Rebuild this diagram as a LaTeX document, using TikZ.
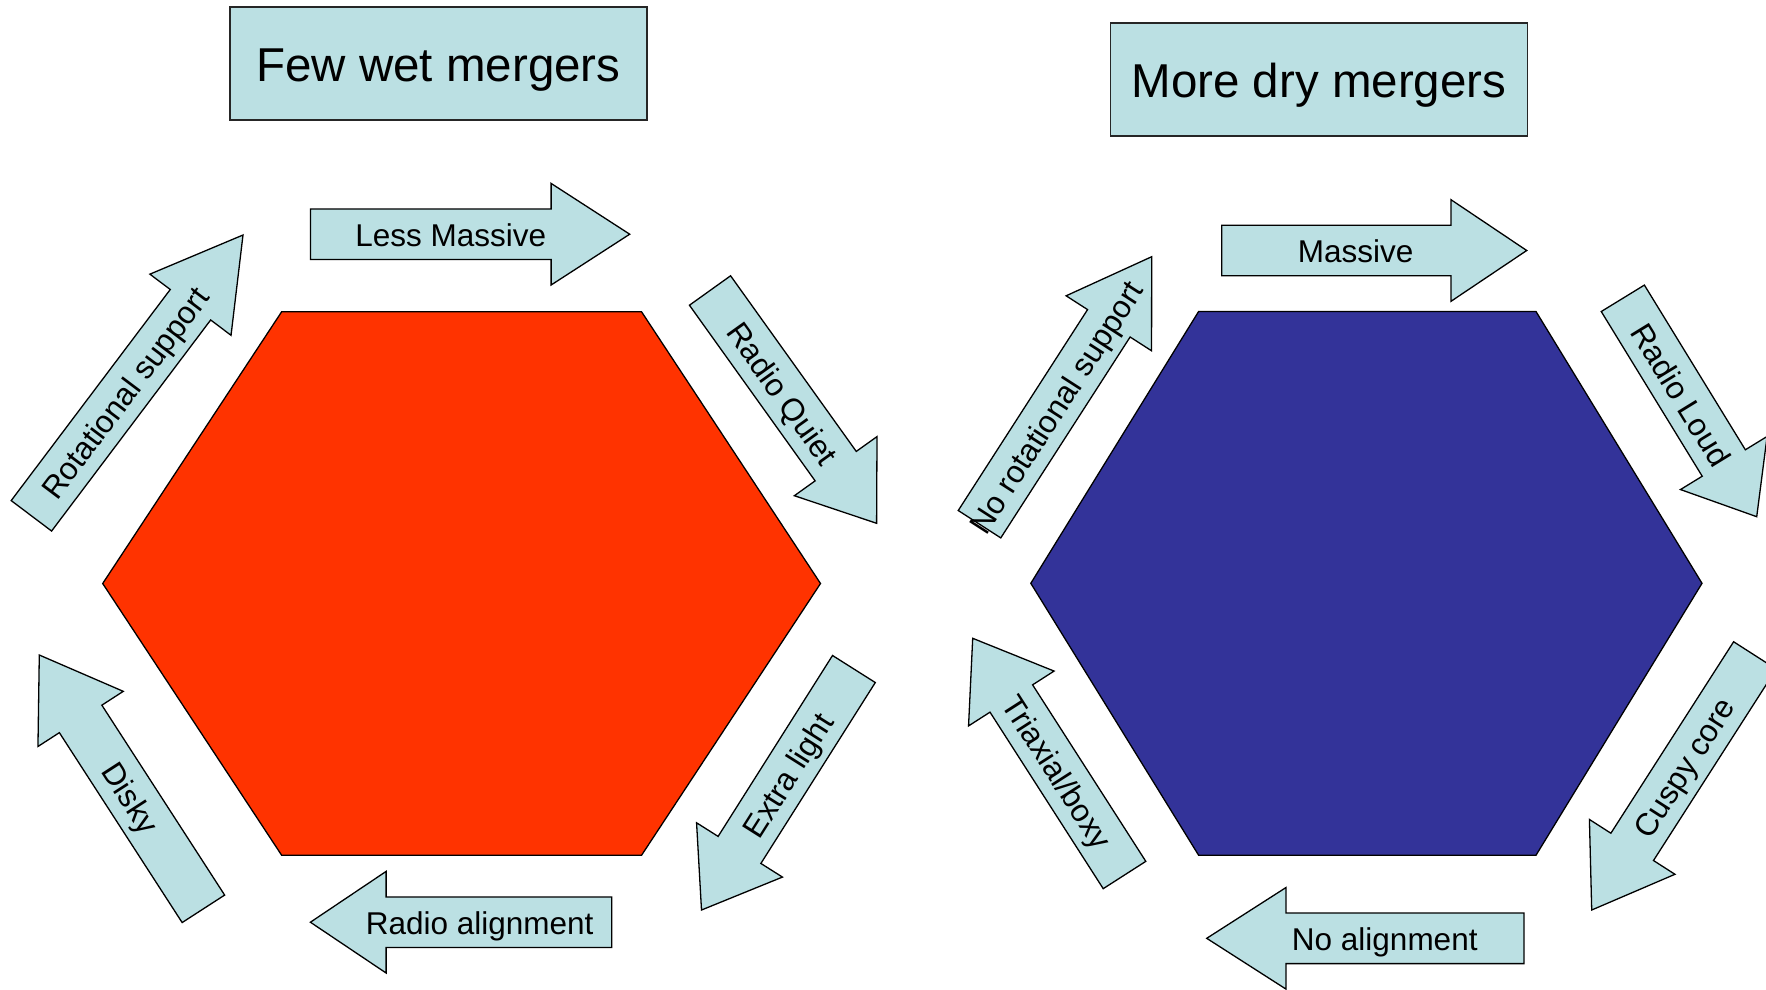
\documentclass[tikz,border=0pt]{standalone}
\usepackage{fontspec}
\setmainfont{Liberation Sans}
\usetikzlibrary{calc}
\definecolor{Tomato}{HTML}{FF3300}
\definecolor{Indigo}{HTML}{333399}
\definecolor{PaleCyan}{HTML}{BBE0E3}
\tikzset{
  titlebox/.style={draw=black!85, line width=1.3pt, fill=PaleCyan,
    minimum width=417pt, minimum height=113pt, inner sep=0pt,
    text height=36.6pt, text depth=0pt, font=\fontsize{47.5}{57}\selectfont},
  arrowbody/.style={draw=black, line width=1.3pt, fill=PaleCyan, line join=miter},
  arrowtext/.style={inner sep=0pt, text height=24.3pt, text depth=0pt,
    font=\fontsize{31.5}{38}\selectfont},
  hexbody/.style={draw=black, line width=1.3pt}
}
% block arrow: name, tail centre, tip, head length, label
\newcommand{\blockarrow}[5]{
  \coordinate (#1-t) at #2;
  \coordinate (#1-b) at #3;
  \coordinate (#1-h) at ($(#1-b)!#4pt!(#1-t)$);
  \coordinate (#1-m) at ($(#1-h)!0.51!(#1-b)$);
  \filldraw[arrowbody] ($(#1-t)!25.3pt!90:(#1-b)$) -- ($(#1-h)!25.3pt!90:(#1-b)$)
    -- ($(#1-h)!50.8pt!90:(#1-b)$) -- (#1-b) -- ($(#1-h)!50.8pt!-90:(#1-b)$)
    -- ($(#1-h)!25.3pt!-90:(#1-b)$) -- ($(#1-t)!25.3pt!-90:(#1-b)$) -- cycle;
  \path (#1-t) -- (#1-m) node[midway, sloped, arrowtext] (#1) {#5};
}

\begin{document}
\begin{tikzpicture}[x=1pt,y=-1pt]
    \useasboundingbox (0,0) rectangle (1766,989);
    \clip (0,0) rectangle (1766,989);

    % Hexagons
    \filldraw[hexbody, fill=Tomato] (281.7,311.7) -- (641.5,311.7) -- (820.5,583.5)
        -- (641.5,855.3) -- (281.7,855.3) -- (102.7,583.5) -- cycle;
    \filldraw[hexbody, fill=Indigo] (1198.6,311.5) -- (1536,311.5) -- (1702,583.3)
        -- (1536,855.2) -- (1198.6,855.2) -- (1030.8,583.3) -- cycle;

    % Left cycle
    \blockarrow{rotsupport}{(31.4,515.8)}{(243,235)}{87.3}{Rotational support}
    \blockarrow{lessmassive}{(310.4,234.2)}{(629.7,234.2)}{78.6}{Less Massive}
    \blockarrow{radioquiet}{(710,290.5)}{(876.6,523.3)}{70.3}{Radio Quiet}
    \blockarrow{extralight}{(853.9,669)}{(701.5,910)}{71.1}{Extra light}
    \blockarrow{radioalign}{(611.7,922.2)}{(310.4,922.2)}{75.7}{Radio alignment}
    \blockarrow{disky}{(203.4,908.8)}{(39.3,655)}{76.1}{Disky}

    % Right cycle
    \blockarrow{norotsupport}{(979.5,524.2)}{(1151.7,256.7)}{79.2}{No rotational support}
    \blockarrow{massive}{(1221.7,250.5)}{(1526.7,250.5)}{75.7}{Massive}
    \blockarrow{radioloud}{(1622.8,298.3)}{(1756.7,516.7)}{63}{Radio Loud}
    \blockarrow{cuspycore}{(1754.9,655.4)}{(1591.7,910)}{75}{Cuspy core}
    \blockarrow{noalign}{(1524,938.3)}{(1206.7,938.3)}{79.3}{No alignment}
    \blockarrow{triaxial}{(1124.5,875)}{(972.7,638.3)}{71.5}{Triaxial/boxy}

    % Titles
    \node[titlebox] (fewwet) at (438.5,63.5) {Few wet mergers};
    \node[titlebox] (moredry) at (1319,79.5) {More dry mergers};
\end{tikzpicture}
\end{document}
